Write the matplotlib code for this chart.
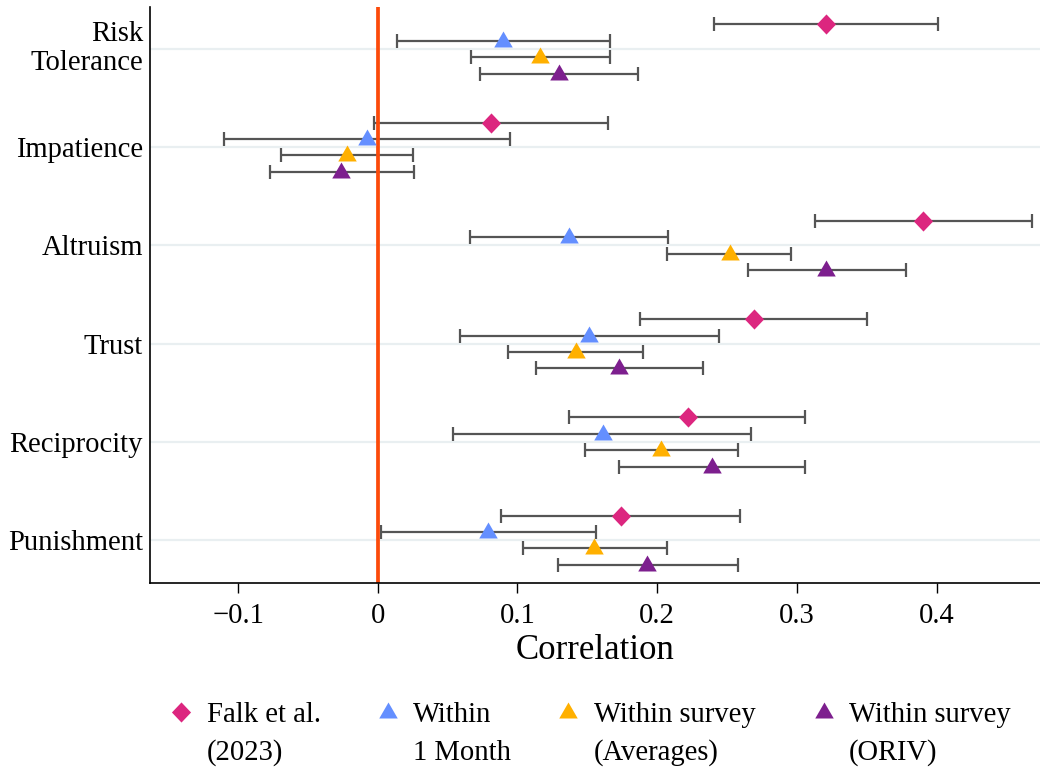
import matplotlib.pyplot as plt
from matplotlib.lines import Line2D
import numpy as np

plt.rcParams['font.family'] = ['Liberation Serif', 'DejaVu Serif']

categories = ['Risk\nTolerance', 'Impatience', 'Altruism', 'Trust', 'Reciprocity', 'Punishment']
series = ['Falk et al.\n(2023)', 'Within\n1 Month', 'Within survey\n(Averages)', 'Within survey\n(ORIV)']

falk_est = [0.321, 0.081, 0.390, 0.269, 0.222, 0.174]
falk_lo = [0.241, -0.003, 0.313, 0.188, 0.137, 0.088]
falk_hi = [0.401, 0.165, 0.468, 0.350, 0.306, 0.259]

month_est = [0.090, -0.008, 0.137, 0.151, 0.161, 0.079]
month_lo = [0.014, -0.110, 0.066, 0.059, 0.054, 0.002]
month_hi = [0.166, 0.095, 0.208, 0.244, 0.267, 0.156]

avg_est = [0.116, -0.022, 0.252, 0.142, 0.203, 0.155]
avg_lo = [0.067, -0.069, 0.207, 0.093, 0.148, 0.104]
avg_hi = [0.166, 0.025, 0.296, 0.190, 0.258, 0.207]

oriv_est = [0.130, -0.026, 0.321, 0.173, 0.239, 0.193]
oriv_lo = [0.073, -0.077, 0.265, 0.113, 0.173, 0.129]
oriv_hi = [0.186, 0.026, 0.378, 0.233, 0.306, 0.258]

colors = ['#dc267f', '#648fff', '#ffb000', '#7d1f8e']
offsets = [-0.25, -0.0833, 0.0833, 0.25]   # shift within a category (downwards on screen)

diamond = [(0, 1), (0.95, 0), (0, -1), (-0.95, 0), (0, 1)]
triangle = [(0, 1), (0.925, -0.6), (-0.925, -0.6), (0, 1)]
markers = [(diamond, 14.5), (triangle, 14.4), (triangle, 14.4), (triangle, 14.4)]

est = [falk_est, month_est, avg_est, oriv_est]
lo = [falk_lo, month_lo, avg_lo, oriv_lo]
hi = [falk_hi, month_hi, avg_hi, oriv_hi]

fig = plt.figure(figsize=(10.4, 7.72), dpi=100)
ax = fig.add_axes([150 / 1040, 1 - 583 / 772, 890 / 1040, (583 - 6.7) / 772])

ypos = np.arange(len(categories))[::-1]  # Risk Tolerance on top

for y in ypos:
    ax.axhline(y, color='#e9eff1', lw=1.6, zorder=0)
ax.axvline(0, color='#fc4a0a', lw=2.7, zorder=2)

for i in range(4):
    e = np.array(est[i])
    yy = ypos - offsets[i]
    err = [e - np.array(lo[i]), np.array(hi[i]) - e]
    ax.errorbar(e, yy, xerr=err, fmt='none', ecolor='#555555', elinewidth=1.6,
                capsize=5, capthick=1.6, zorder=1)
    m, ms = markers[i]
    ax.plot(e, yy, linestyle='none', marker=m, markersize=ms, color=colors[i],
            markeredgewidth=0, zorder=3)

ax.set_xlim(-0.163, 0.474)
ax.set_ylim(-0.435, 5.43)
ax.set_yticks(ypos)
ylabels = ax.set_yticklabels(categories, linespacing=1.15)
ylabels[0].set_va('center')
ax.set_xticks([-0.1, 0, 0.1, 0.2, 0.3, 0.4])
ax.set_xticklabels(['\u22120.1', '0', '0.1', '0.2', '0.3', '0.4'])
ax.tick_params(axis='y', length=0, pad=5, labelsize=20.6)
ax.tick_params(axis='x', length=7.2, width=1.0, pad=7, labelsize=20.6)
ax.set_xlabel('Correlation', fontsize=25, labelpad=4)
for s in ['top', 'right']:
    ax.spines[s].set_visible(False)
for s in ['left', 'bottom']:
    ax.spines[s].set_linewidth(1.2)

# legend drawn below the axes
legend_marker_x = [181, 388, 568, 824]
legend_text_x = [207, 413, 594, 849]
for i, lab in enumerate(series):
    m, ms = markers[i]
    fig.add_artist(Line2D([legend_marker_x[i] / 1040], [1 - 712 / 772], marker=m,
                          markersize=ms, color=colors[i], markeredgewidth=0,
                          linestyle='none', transform=fig.transFigure))
    l1, l2 = lab.split('\n')
    fig.text(legend_text_x[i] / 1040, 1 - 722 / 772, l1, fontsize=20.6, va='baseline')
    fig.text(legend_text_x[i] / 1040, 1 - 760 / 772, l2, fontsize=20.6, va='baseline')

fig.savefig('out.png', dpi=100)
